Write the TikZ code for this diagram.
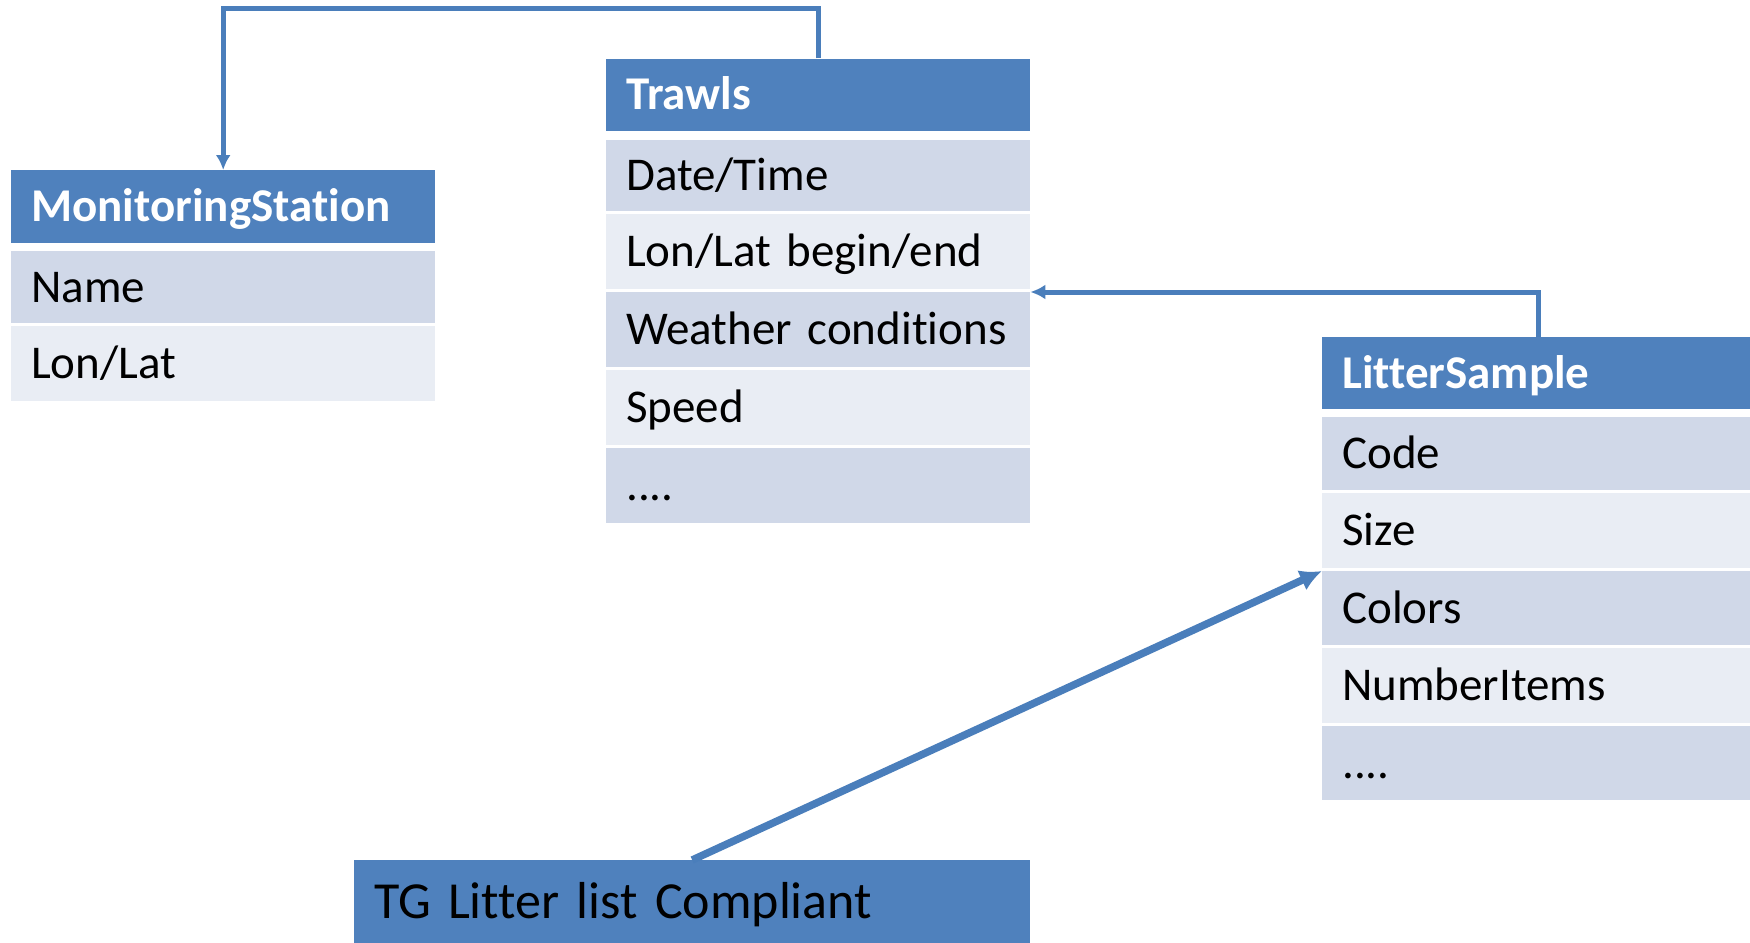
\documentclass[tikz,border=0pt]{standalone}
\usepackage{fontspec}
\setmainfont{Carlito}[Ligatures={NoCommon}]
\usetikzlibrary{arrows.meta}
\definecolor{hdr}{HTML}{4F81BD}
\definecolor{rowdark}{HTML}{D0D8E8}
\definecolor{rowlight}{HTML}{E9EDF4}
\definecolor{conn}{HTML}{4A7EBB}
\tikzset{
  cell/.style={anchor=north west, inner xsep=20pt, inner ysep=0pt,
    text height=29.6pt, text depth=0pt, align=left,
    font=\fontsize{47}{56}\selectfont},
  hdrcell/.style={cell, fill=hdr, text=white, font=\fontsize{47}{56}\selectfont\bfseries},
  dark/.style={cell, fill=rowdark},
  light/.style={cell, fill=rowlight},
  tgcell/.style={cell, fill=hdr, text=black, text height=32.8pt, font=\fontsize{52}{60}\selectfont},
  link/.style={draw=conn, line width=5pt, -{Latex[length=15pt,width=15pt]}},
  biglink/.style={draw=conn, line width=7.5pt, -{Latex[length=22pt,width=22pt]}},
}
\begin{document}
\begin{tikzpicture}[x=1pt,y=-1pt]
\useasboundingbox (0,0) rectangle (1750,942);
% MonitoringStation
\node[hdrcell, text width=384pt, minimum height=73pt] (ms) at (11,170) {MonitoringStation};
\node[dark,  text width=384pt, minimum height=72pt] (msname) at (11,251) {Name};
\node[light, text width=384pt, minimum height=75pt] (mslonlat) at (11,326) {Lon/Lat};
% Trawls
\node[hdrcell, text width=384pt, minimum height=72.5pt] (tr) at (606,58.5) {Trawls};
\node[dark,  text width=384pt, minimum height=71pt] (trdate) at (606,139.5) {Date/Time};
\node[light, text width=384pt, minimum height=74.5pt] (trlonlat) at (606,214) {Lon/Lat begin/end};
\node[dark,  text width=384pt, minimum height=75pt] (trweather) at (606,292) {Weather conditions};
\node[light, text width=384pt, minimum height=75pt] (trspeed) at (606,370) {Speed};
\node[dark,  text width=384pt, minimum height=75pt] (trmore) at (606,448) {....};
% LitterSample
\node[hdrcell, text width=392pt, minimum height=72pt] (ls) at (1322,337) {LitterSample};
\node[dark,  text width=392pt, minimum height=73pt] (lscode) at (1322,417) {Code};
\node[light, text width=392pt, minimum height=75pt] (lssize) at (1322,493) {Size};
\node[dark,  text width=392pt, minimum height=74pt] (lscolors) at (1322,571) {Colors};
\node[light, text width=392pt, minimum height=75pt] (lsnumber) at (1322,648) {NumberItems};
\node[dark,  text width=392pt, minimum height=74pt] (lsmore) at (1322,726) {....};
% TG box
\node[tgcell, text width=636pt, minimum height=84pt] (tg) at (354,860) {TG Litter list Compliant};
% connectors
\draw[link] (tr.north) -- ++(0,-50) -| (ms.north);
\draw[link] (ls.north) |- (trweather.north east);
\draw[biglink] (tg.north) -- (lscolors.north west);
\end{tikzpicture}
\end{document}
